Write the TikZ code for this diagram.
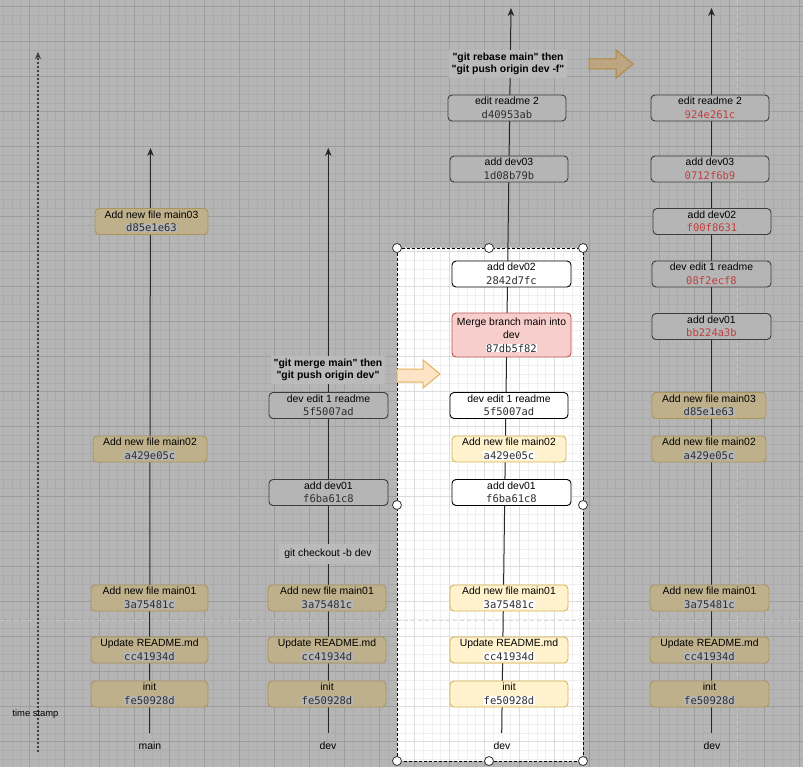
\documentclass[tikz,border=0pt]{standalone}
\usepackage{fontspec}
\setmainfont{Liberation Sans}
\newfontfamily\cmdfont{Liberation Sans}
\newfontfamily\hashfont{DejaVu Sans Mono}
\usetikzlibrary{arrows.meta}
\definecolor{canvas}{HTML}{B5B5B5}
\definecolor{lblbg}{HTML}{BABABA}
\definecolor{gminor}{HTML}{ABABAB}
\definecolor{gmajor}{HTML}{9D9D9D}
\definecolor{wminor}{HTML}{F0F0F0}
\definecolor{wmajor}{HTML}{DCDCDC}
\definecolor{tanfill}{HTML}{BEB08A}
\definecolor{tanline}{HTML}{A99560}
\definecolor{yelfill}{HTML}{FFF2CC}
\definecolor{yelline}{HTML}{D6B656}
\definecolor{pinkfill}{HTML}{F8CECC}
\definecolor{pinkline}{HTML}{B85450}
\definecolor{grayline}{HTML}{3C3C3C}
\definecolor{redhash}{HTML}{C23E3E}
\definecolor{hashtxt}{HTML}{2E2E2E}
\definecolor{pfill}{HTML}{FDE4C6}
\definecolor{pline}{HTML}{E3B25C}
\definecolor{bfill}{HTML}{BEA582}
\definecolor{bline}{HTML}{B08A40}
\newcommand{\hs}[3]{{\hashfont\fontsize{10.5}{13.5}\selectfont\setlength{\fboxsep}{0.3pt}\colorbox{#1}{\textcolor{#2}{#3}}}}
\tikzset{
  commit/.style={rounded corners=4pt, minimum height=26pt, inner sep=0.5pt, align=center,
    font=\fontsize{10.4}{13.5}\selectfont, line width=0.9pt},
  tanN/.style={commit, fill=tanfill, draw=tanline},
  yelN/.style={commit, fill=yelfill, draw=yelline},
  grayN/.style={commit, fill=canvas, draw=grayline},
  whiteN/.style={commit, fill=white, draw=black},
  pinkN/.style={commit, fill=pinkfill, draw=pinkline},
  branch/.style={line width=1pt, draw=black!85, -{Stealth[length=8pt,width=6.5pt,inset=2.5pt]}},
  cmdlbl/.style={fill=lblbg, align=center, inner sep=3pt, font=\cmdfont\bfseries\fontsize{10.4}{12.5}\selectfont},
  plainlbl/.style={font=\fontsize{10.4}{12.5}\selectfont},
  handle/.style={circle, draw=black!80, fill=white, line width=0.8pt, minimum size=9pt, inner sep=0pt},
}
\begin{document}
\begin{tikzpicture}[x=1pt,y=-1pt]
\useasboundingbox (0,0) rectangle (803,767);
% gray canvas with grid
\fill[canvas] (0,0) rectangle (803,767);
\foreach \i in {0,...,93} {\draw[gminor, line width=0.5pt] ({-5.7+8.75*\i},0) -- ++(0,767);}
\foreach \i in {0,...,91} {\draw[gminor, line width=0.5pt] (0,{-28.3+8.75*\i}) -- ++(803,0);}
\foreach \k in {0,...,23} {\draw[gmajor, line width=0.8pt] ({29.3+35*\k},0) -- ++(0,767);}
\foreach \k in {0,...,22} {\draw[gmajor, line width=0.8pt] (0,{6.7+35*\k}) -- ++(803,0);}
% page breaks
\draw[black!22, line width=1pt, dash pattern=on 4pt off 3pt] (0,620) -- (803,620);
\draw[black!22, line width=1pt, dash pattern=on 4pt off 3pt] (737.5,0) -- (737.5,767);
% white selected region
\begin{scope}
\clip (397,248) rectangle (583,761);
\fill[white] (397,248) rectangle (583,761);
\foreach \i in {45,...,67} {\draw[wminor, line width=0.5pt] ({-5.7+8.75*\i},0) -- ++(0,767);}
\foreach \i in {30,...,91} {\draw[wminor, line width=0.5pt] (0,{-28.3+8.75*\i}) -- ++(803,0);}
\foreach \k in {11,...,16} {\draw[wmajor, line width=0.8pt] ({29.3+35*\k},0) -- ++(0,767);}
\foreach \k in {7,...,22} {\draw[wmajor, line width=0.8pt] (0,{6.7+35*\k}) -- ++(803,0);}
\draw[black!15, line width=1pt, dash pattern=on 4pt off 3pt] (397,620) -- (583,620);
\end{scope}
\draw[black, line width=0.9pt, dash pattern=on 3pt off 2pt] (397,248) rectangle (583,761);

% time stamp
\coordinate (tsb) at (38,752);
\coordinate (tst) at (38,52);
\draw[line width=1.6pt, black!75, dash pattern=on 2pt off 2pt, -{Stealth[length=7pt,width=6pt,inset=2pt]}] (tsb) -- (tst);
\node[font=\fontsize{9.4}{10}\selectfont] (ts) at (35.5,714) {time stamp};

% branch lines
\coordinate (b1) at (149.5,733); \coordinate (t1) at (150.5,148);
\coordinate (b2) at (328.3,733); \coordinate (t2) at (328.3,148);
\coordinate (b3) at (501.7,733); \coordinate (t3) at (511,8);
\coordinate (b4) at (711.5,733); \coordinate (t4) at (711.5,8);
\draw[branch] (b1) -- (t1);
\draw[branch] (b2) -- (t2);
\draw[branch] (b3) -- (t3);
\draw[branch] (b4) -- (t4);

% column 1 : main
\node[tanN, minimum width=113pt] (m1c3) at (151.5,221.5) {Add new file main03\\\hs{canvas}{hashtxt}{d85e1e63}};
\node[tanN, minimum width=114pt] (m1c2) at (150,449) {Add new file main02\\\hs{canvas}{hashtxt}{a429e05c}};
\node[tanN, minimum width=117pt] (m1c1) at (149.5,598) {Add new file main01\\\hs{canvas}{hashtxt}{3a75481c}};
\node[tanN, minimum width=117pt] (m1rd) at (149.5,650) {Update README.md\\\hs{canvas}{hashtxt}{cc41934d}};
\node[tanN, minimum width=117pt] (m1in) at (149.5,694) {init\\\hs{canvas}{hashtxt}{fe50928d}};
\node[plainlbl] (lmain) at (150,746) {main};

% column 2 : dev
\node[cmdlbl] (cmdmerge) at (328,370) {"git merge main" then\\"git push origin dev"};
\node[grayN, minimum width=119pt] (d2e1) at (328.5,405.5) {dev edit 1 readme\\\hs{canvas}{hashtxt}{5f5007ad}};
\node[grayN, minimum width=119pt] (d2d1) at (328.5,492.5) {add dev01\\\hs{canvas}{hashtxt}{f6ba61c8}};
\node[plainlbl, fill=lblbg, inner sep=5pt] (chk) at (328,554) {git checkout -b dev};
\node[tanN, minimum width=118pt] (d2c1) at (327,598) {Add new file main01\\\hs{canvas}{hashtxt}{3a75481c}};
\node[tanN, minimum width=118pt] (d2rd) at (327,650) {Update README.md\\\hs{canvas}{hashtxt}{cc41934d}};
\node[tanN, minimum width=118pt] (d2in) at (327,694) {init\\\hs{canvas}{hashtxt}{fe50928d}};
\node[plainlbl] (ldev2) at (328,746) {dev};

% column 3 : dev after merge
\node[cmdlbl] (cmdrebase) at (508,64) {"git rebase main" then\\"git push origin dev -f"};
\node[grayN, minimum width=118pt] (d3e2) at (507,108) {edit readme 2\\\hs{canvas}{hashtxt}{d40953ab}};
\node[grayN, minimum width=118pt] (d3d3) at (509,169) {add dev03\\\hs{canvas}{hashtxt}{1d08b79b}};
\node[whiteN, minimum width=119pt] (d3d2) at (511.5,274) {add dev02\\\hs{white}{hashtxt}{2842d7fc}};
\node[pinkN, minimum width=119pt, minimum height=44pt] (d3mg) at (511.5,335) {Merge branch main into\\dev\\\hs{white}{hashtxt}{87db5f82}};
\node[whiteN, minimum width=118pt] (d3e1) at (509,405.5) {dev edit 1 readme\\\hs{white}{hashtxt}{5f5007ad}};
\node[yelN, minimum width=114pt] (d3c2) at (509,449) {Add new file main02\\\hs{white}{hashtxt}{a429e05c}};
\node[whiteN, minimum width=119pt] (d3d1) at (511.5,492.5) {add dev01\\\hs{white}{hashtxt}{f6ba61c8}};
\node[yelN, minimum width=118pt] (d3c1) at (509,598) {Add new file main01\\\hs{white}{hashtxt}{3a75481c}};
\node[yelN, minimum width=118pt] (d3rd) at (509,650) {Update README.md\\\hs{white}{hashtxt}{cc41934d}};
\node[yelN, minimum width=118pt] (d3in) at (509,694) {init\\\hs{white}{hashtxt}{fe50928d}};
\node[plainlbl] (ldev3) at (502,746) {dev};

% column 4 : dev after rebase
\node[grayN, minimum width=118pt] (d4e2) at (710,108) {edit readme 2\\\hs{canvas}{redhash}{924e261c}};
\node[grayN, minimum width=118pt] (d4d3) at (710,169) {add dev03\\\hs{canvas}{redhash}{0712f6b9}};
\node[grayN, minimum width=118pt] (d4d2) at (712,221.5) {add dev02\\\hs{canvas}{redhash}{f00f8631}};
\node[grayN, minimum width=119pt] (d4e1) at (711.5,274) {dev edit 1 readme\\\hs{canvas}{redhash}{08f2ecf8}};
\node[grayN, minimum width=119pt] (d4d1) at (711.5,326.5) {add dev01\\\hs{canvas}{redhash}{bb224a3b}};
\node[tanN, minimum width=114pt] (d4c3) at (709,405.5) {Add new file main03\\\hs{canvas}{hashtxt}{d85e1e63}};
\node[tanN, minimum width=114pt] (d4c2) at (709,449) {Add new file main02\\\hs{canvas}{hashtxt}{a429e05c}};
\node[tanN, minimum width=119pt] (d4c1) at (709.5,598) {Add new file main01\\\hs{canvas}{hashtxt}{3a75481c}};
\node[tanN, minimum width=119pt] (d4rd) at (709.5,650) {Update README.md\\\hs{canvas}{hashtxt}{cc41934d}};
\node[tanN, minimum width=119pt] (d4in) at (709.5,694) {init\\\hs{canvas}{hashtxt}{fe50928d}};
\node[plainlbl] (ldev4) at (712,746) {dev};

% block arrows
\draw[fill=pfill, draw=pline, line width=1pt, line join=miter] (397,369) -- (423,369) -- (423,360) -- (440,374) -- (423,388) -- (423,382) -- (397,382) -- cycle;
\draw[fill=bfill, draw=bline, line width=1pt, line join=miter] (589,59) -- (616,59) -- (616,50) -- (633,64) -- (616,78) -- (616,69) -- (589,69) -- cycle;

% selection handles
\foreach \p [count=\n] in {(397,248),(489,248),(583,248),(397,505),(583,505),(397,761),(489,761),(583,761)}
  {\node[handle] (h\n) at \p {};}
\end{tikzpicture}
\end{document}
